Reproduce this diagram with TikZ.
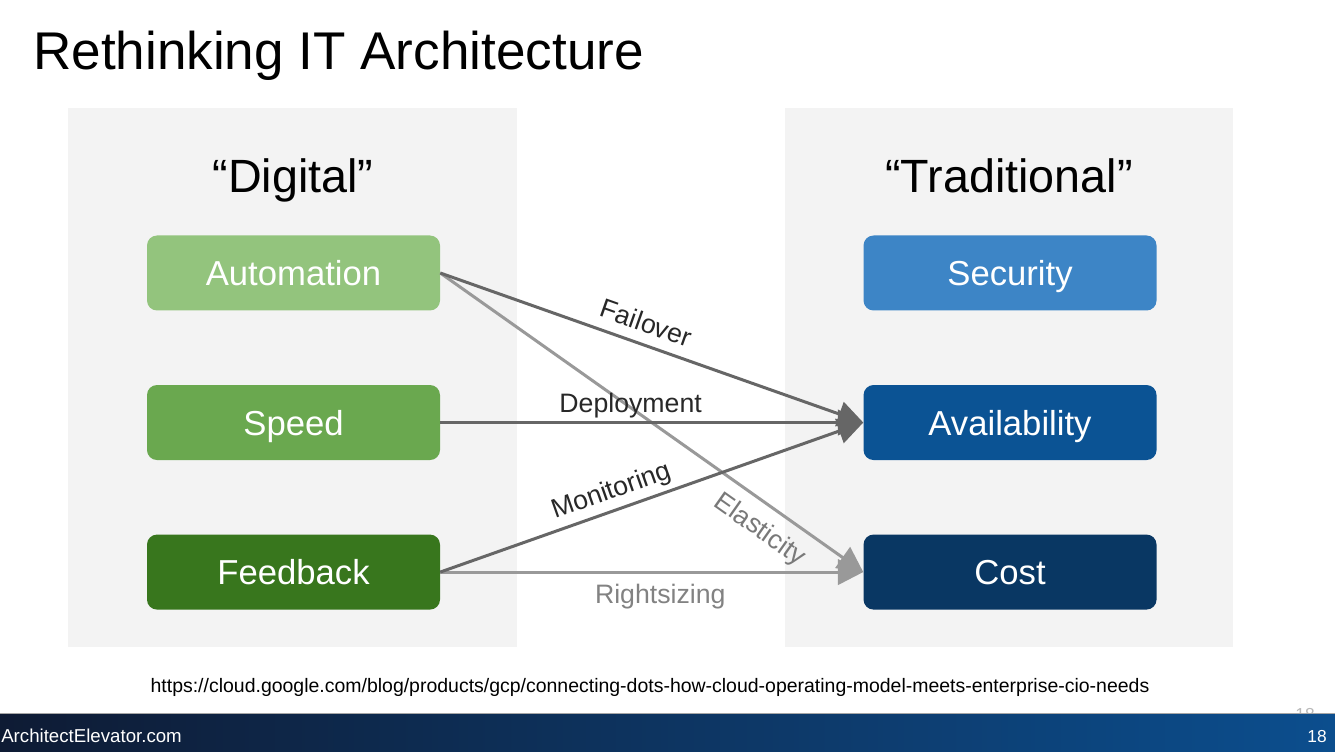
\documentclass[tikz,border=0pt]{standalone}
\usepackage{fontspec}
\setmainfont{Liberation Sans}
\usetikzlibrary{positioning,arrows.meta}
\definecolor{panelgray}{RGB}{243,243,243}
\definecolor{autocolor}{RGB}{147,196,125}
\definecolor{speedcolor}{RGB}{106,168,79}
\definecolor{feedcolor}{RGB}{56,118,29}
\definecolor{securitycolor}{RGB}{61,133,198}
\definecolor{availcolor}{RGB}{11,83,148}
\definecolor{costcolor}{RGB}{9,55,99}
\definecolor{darkline}{RGB}{102,102,102}
\definecolor{lightline}{RGB}{153,153,153}
\definecolor{labeltext}{RGB}{40,40,40}
\definecolor{footleft}{RGB}{14,27,52}
\definecolor{footright}{RGB}{12,78,142}

\begin{document}
\begin{tikzpicture}[
    x=0.75pt, y=-0.75pt,
    every node/.style={font=\fontsize{20}{24}\selectfont},
    box/.style={
        rectangle, rounded corners=7.5pt,
        minimum width=219.75pt, minimum height=56.25pt,
        inner sep=0pt, text=white,
        text height=18.7pt, text depth=0pt,
        font=\fontsize{26}{30}\selectfont
    },
    heading/.style={anchor=base, font=\fontsize{35}{42}\selectfont},
    lbl/.style={sloped, text=labeltext},
    darkarrow/.style={-{Triangle[length=19pt,width=19pt]}, line width=2.25pt, darkline},
    lightarrow/.style={-{Triangle[length=19pt,width=19pt]}, line width=2.25pt, lightline}
]
\useasboundingbox (0,0) rectangle (1335,752);
\fill[white] (0,0) rectangle (1335,752);

% Panels
\fill[panelgray] (68,108) rectangle (517,647);
\fill[panelgray] (785,108) rectangle (1233,647);

% Title and headings
\node[anchor=base west, inner sep=0pt, font=\fontsize{39.8}{46}\selectfont] (title) at (33,70) {Rethinking IT Architecture};
\node[heading] (digital) at (293,193) {“Digital”};
\node[heading] (traditional) at (1009,193) {“Traditional”};

% Digital
\node[box, fill=autocolor] (automation) at (293.5,273) {Automation};
\node[box, fill=speedcolor, below=55.5pt of automation] (speed) {Speed};
\node[box, fill=feedcolor, below=55.5pt of speed] (feedback) {Feedback};

% Traditional
\node[box, fill=securitycolor, right=317.25pt of automation] (security) {Security};
\node[box, fill=availcolor, below=55.5pt of security] (availability) {Availability};
\node[box, fill=costcolor, below=55.5pt of availability] (cost) {Cost};

% Arrows
\draw[lightarrow] (automation.east) -- node[lbl, below, pos=0.79, inner sep=9pt, text=gray!95!black] {Elasticity} (cost.west);
\draw[lightarrow] (feedback.east) -- node[lbl, below, pos=0.52, inner sep=7.8pt, text=lightline!85!black] {Rightsizing} (cost.west);
\draw[darkarrow] (automation.east) -- node[lbl, above, pos=0.47, inner sep=8pt] {Failover} (availability.west);
\draw[darkarrow] (speed.east) -- node[lbl, above, pos=0.45, inner sep=2.5pt] {Deployment} (availability.west);
\draw[darkarrow] (feedback.east) -- node[lbl, above, pos=0.42, inner sep=3.5pt] {Monitoring} (availability.west);

% Source
\node[anchor=base, inner sep=0pt, font=\fontsize{14.6}{17}\selectfont] (source) at (650,692)
{https://cloud.google.com/blog/products/gcp/connecting-dots-how-cloud-operating-model-meets-enterprise-cio-needs};

% Footer
\node[anchor=base east, inner sep=0pt, text=gray!55, font=\fontsize{13}{15}\selectfont] (ghostpage) at (1315,720) {18};
\shade[left color=footleft, right color=footright] (0,714) rectangle (1335,752);
\draw[gray!70, line width=1.2pt] (0,713.5) -- (1335,713.5);
\node[anchor=base west, inner sep=0pt, text=white, font=\fontsize{14}{16}\selectfont] (site) at (1,742) {ArchitectElevator.com};
\node[anchor=base east, inner sep=0pt, text=white, font=\fontsize{13}{15}\selectfont] (page) at (1327,742) {18};
\end{tikzpicture}
\end{document}
